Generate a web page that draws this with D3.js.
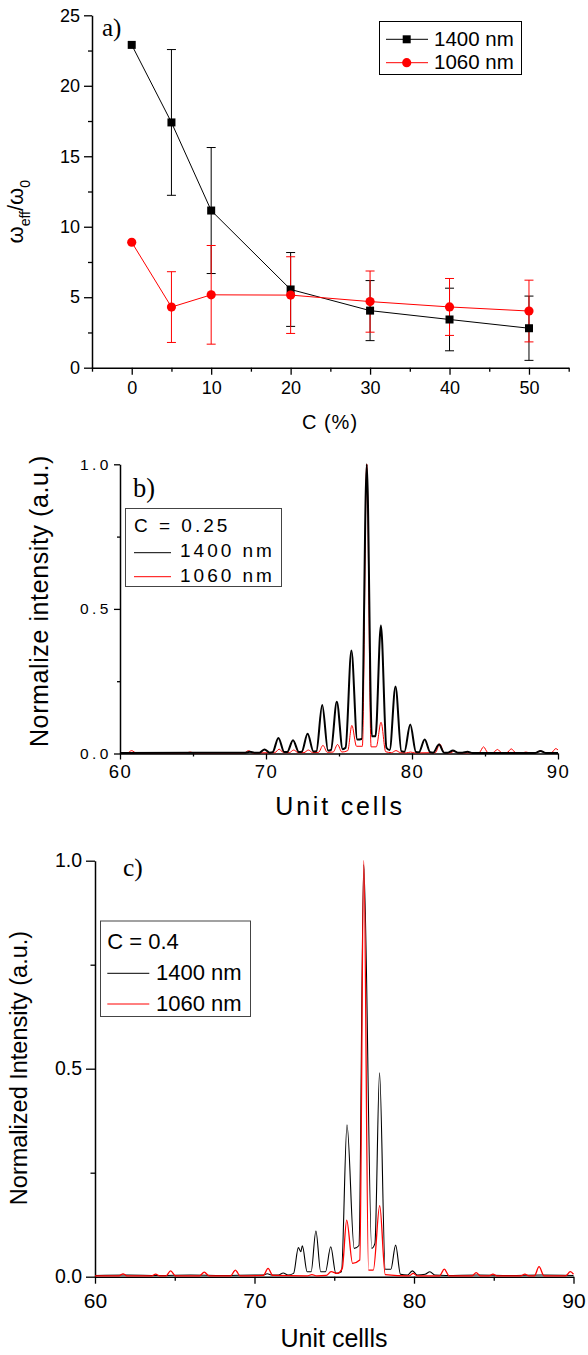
<!DOCTYPE html>
<html>
<head>
<meta charset="utf-8">
<title>Effective frequency and intensity profiles</title>
<script src="https://d3js.org/d3.v7.min.js"></script>
<style>
  html, body { margin: 0; padding: 0; background: #fff; }
  svg { display: block; font-family: "Liberation Sans", Arial, sans-serif; }
  .tag { font-family: "Liberation Serif", "Times New Roman", serif; }
</style>
</head>
<body>
<div id="chart"></div>
<script>
// panel a) effective frequency ratio vs concentration
const concentration = [0, 5, 10, 20, 30, 40, 50];
const omega1400 = [22.9, 17.4, 11.15, 5.55, 4.05, 3.42, 2.8];
const err1400 = [0, 5.17, 4.47, 2.62, 2.13, 2.22, 2.28];
const omega1060 = [8.9, 4.3, 5.17, 5.15, 4.69, 4.31, 4.02];
const err1060 = [0, 2.51, 3.5, 2.72, 2.17, 2.02, 2.19];

// panel b) C = 0.25, intensity profile (unit cell, intensity)
const b1400 = [
  [60, 0.002], [68.6, 0.003], [68.9, 0.006], [69.2, 0.003],
  [69.55, 0.003], [69.9, 0.014], [70.25, 0.003],
  [70.45, 0.004], [70.85, 0.054], [71.25, 0.005],
  [71.45, 0.005], [71.85, 0.046], [72.25, 0.005],
  [72.45, 0.006], [72.85, 0.068], [73.25, 0.007],
  [73.45, 0.008], [73.85, 0.168], [74.25, 0.01],
  [74.45, 0.012], [74.85, 0.179], [75.25, 0.015],
  [75.45, 0.02], [75.85, 0.356], [76.25, 0.048],
  [76.55, 0.05], [76.9, 1.0], [77.25, 0.06],
  [77.5, 0.06], [77.87, 0.443], [78.25, 0.02],
  [78.47, 0.012], [78.87, 0.232], [79.27, 0.008],
  [79.48, 0.006], [79.88, 0.1], [80.27, 0.005],
  [80.47, 0.004], [80.87, 0.048], [81.25, 0.004],
  [81.45, 0.003], [81.85, 0.031], [82.2, 0.003],
  [82.45, 0.003], [82.8, 0.01], [83.15, 0.003],
  [83.45, 0.003], [83.8, 0.006], [84.15, 0.002],
  [88.45, 0.002], [88.8, 0.009], [89.15, 0.002], [90, 0.002]
];
const b1060 = [
  [60, 0.002], [60.5, 0.002], [60.8, 0.01], [61.1, 0.002],
  [64.5, 0.002], [64.8, 0.005], [65.1, 0.002],
  [68.5, 0.002], [68.8, 0.01], [69.1, 0.002],
  [70.6, 0.003], [70.9, 0.015], [71.2, 0.003],
  [71.6, 0.003], [71.9, 0.012], [72.2, 0.003],
  [72.6, 0.003], [72.9, 0.012], [73.2, 0.003],
  [73.6, 0.004], [73.9, 0.028], [74.2, 0.004],
  [74.6, 0.005], [74.9, 0.031], [75.2, 0.005],
  [75.6, 0.01], [75.88, 0.097], [76.2, 0.025],
  [76.6, 0.025], [76.9, 1.0], [77.2, 0.023],
  [77.55, 0.023], [77.88, 0.108], [78.2, 0.006],
  [78.6, 0.003], [78.9, 0.01], [79.2, 0.003],
  [79.6, 0.002], [79.9, 0.005], [80.2, 0.002],
  [81.6, 0.003], [81.9, 0.033], [82.2, 0.003],
  [82.6, 0.002], [82.9, 0.008], [83.2, 0.002],
  [84.6, 0.003], [84.9, 0.023], [85.2, 0.003],
  [85.55, 0.003], [85.85, 0.014], [86.15, 0.003],
  [86.5, 0.003], [86.8, 0.016], [87.1, 0.003],
  [87.5, 0.002], [87.8, 0.005], [88.1, 0.002],
  [88.5, 0.003], [88.8, 0.009], [89.1, 0.003],
  [89.55, 0.003], [89.85, 0.017], [90, 0.012]
];

// panel c) C = 0.4, intensity profile
const c1400 = [
  [60, 0.003], [62, 0.004], [64, 0.003], [66, 0.004], [68, 0.003], [70, 0.004],
  [70.5, 0.004], [70.8, 0.007], [71.1, 0.004],
  [71.5, 0.004], [71.8, 0.009], [72.1, 0.004],
  [72.45, 0.008], [72.75, 0.07], [72.9, 0.06], [73.0, 0.074], [73.3, 0.012],
  [73.55, 0.012], [73.85, 0.11], [74.15, 0.012],
  [74.45, 0.012], [74.78, 0.072], [75.1, 0.008],
  [75.45, 0.012], [75.8, 0.365], [76.25, 0.068],
  [76.55, 0.075], [76.85, 0.99], [77.35, 0.068],
  [77.55, 0.08], [77.84, 0.49], [78.2, 0.018],
  [78.55, 0.018], [78.85, 0.076], [79.15, 0.006],
  [79.6, 0.004], [79.9, 0.014], [80.2, 0.004],
  [80.7, 0.006], [81.0, 0.012], [81.3, 0.004],
  [82, 0.003], [84, 0.004], [86, 0.003], [88, 0.004], [90, 0.003]
];
const c1060 = [
  [60, 0.002], [61.5, 0.002], [61.76, 0.007], [62.0, 0.002],
  [63.55, 0.002], [63.8, 0.006], [64.05, 0.002],
  [64.45, 0.002], [64.74, 0.014], [65.05, 0.002],
  [66.55, 0.002], [66.85, 0.011], [67.15, 0.002],
  [68.5, 0.002], [68.8, 0.016], [69.1, 0.002],
  [70.55, 0.003], [70.85, 0.02], [71.15, 0.003],
  [73.3, 0.002], [73.6, 0.005], [73.9, 0.002],
  [74.5, 0.003], [74.8, 0.012], [75.2, 0.008],
  [75.5, 0.02], [75.78, 0.136], [76.15, 0.032],
  [76.6, 0.04], [76.85, 1.0], [77.15, 0.016],
  [77.45, 0.016], [77.85, 0.171], [78.2, 0.005],
  [79.7, 0.002], [79.95, 0.008], [80.2, 0.002],
  [81.6, 0.002], [81.9, 0.018], [82.2, 0.002],
  [83.65, 0.002], [83.9, 0.01], [84.15, 0.002],
  [84.7, 0.002], [84.95, 0.006], [85.2, 0.002],
  [86.7, 0.002], [86.95, 0.006], [87.2, 0.002],
  [87.55, 0.002], [87.84, 0.024], [88.15, 0.002],
  [89.5, 0.002], [89.8, 0.012], [90, 0.006]
];

const seriesNames = ["1400 nm", "1060 nm"];
const seriesColors = ["#000000", "#ff0000"];

const svg = d3.select("#chart")
  .append("svg")
  .attr("width", 588)
  .attr("height", 1355);

svg.append("rect").attr("width", 588).attr("height", 1355).attr("fill", "#fff");

// draws an axis with major (labelled) and minor ticks
function drawAxis(orient, scale, pos, cfg) {
  const make = orient === "left" ? d3.axisLeft : d3.axisBottom;
  const tr = orient === "left" ? `translate(${pos},0)` : `translate(0,${pos})`;

  const minor = svg.append("g")
    .attr("transform", tr)
    .call(make(scale).tickValues(cfg.minor).tickSize(cfg.minorLen).tickFormat(""));
  minor.select(".domain").remove();
  minor.selectAll("line").attr("stroke", "#000").attr("stroke-width", 1.3);

  const major = svg.append("g")
    .attr("transform", tr)
    .call(make(scale)
      .tickValues(cfg.major)
      .tickSize(cfg.majorLen)
      .tickSizeOuter(0)
      .tickPadding(cfg.pad)
      .tickFormat(cfg.format));
  major.attr("font-size", cfg.fontSize).attr("font-family", null);
  major.select(".domain").attr("stroke", "#000").attr("stroke-width", 1.5);
  major.selectAll("line").attr("stroke", "#000").attr("stroke-width", 1.3);
  major.selectAll("text")
    .attr("fill", "#000")
    .style("letter-spacing", (cfg.spacing || 0) + "px");
  return major;
}

// ---------- panel a ----------
const xA = d3.scaleLinear().domain([-5, 55]).range([92, 568.7]);
const yA = d3.scaleLinear().domain([0, 25]).range([367.7, 15.3]);

drawAxis("left", yA, 92, {
  major: [0, 5, 10, 15, 20, 25], minor: [2.5, 7.5, 12.5, 17.5, 22.5],
  majorLen: 8, minorLen: 4, pad: 4, fontSize: 18, format: d3.format("d")
});
drawAxis("bottom", xA, 367.7, {
  major: [0, 10, 20, 30, 40, 50], minor: [-5, 5, 15, 25, 35, 45, 55],
  majorLen: 7, minorLen: 4, pad: 7, fontSize: 18, format: d3.format("d")
});

const seriesA = [
  { values: omega1400, err: err1400, color: seriesColors[0], marker: "square" },
  { values: omega1060, err: err1060, color: seriesColors[1], marker: "circle" }
];

// error bars
seriesA.forEach((s) => {
  const g = svg.append("g").attr("stroke", s.color).attr("stroke-width", 1);
  concentration.forEach((c, i) => {
    if (!s.err[i]) return;
    const cx = xA(c);
    const top = yA(s.values[i] + s.err[i]);
    const bot = yA(s.values[i] - s.err[i]);
    g.append("line").attr("x1", cx).attr("x2", cx).attr("y1", top).attr("y2", bot);
    g.append("line").attr("x1", cx - 4.5).attr("x2", cx + 4.5).attr("y1", top).attr("y2", top);
    g.append("line").attr("x1", cx - 4.5).attr("x2", cx + 4.5).attr("y1", bot).attr("y2", bot);
  });
});

// lines and markers
seriesA.forEach((s) => {
  const line = d3.line().x((d, i) => xA(concentration[i])).y((d) => yA(d));
  svg.append("path")
    .datum(s.values)
    .attr("d", line)
    .attr("fill", "none")
    .attr("stroke", s.color)
    .attr("stroke-width", 1);
  const sym = d3.symbol()
    .type(s.marker === "square" ? d3.symbolSquare : d3.symbolCircle)
    .size(s.marker === "square" ? 64 : 66);
  svg.append("g")
    .selectAll("path")
    .data(s.values)
    .join("path")
    .attr("transform", (d, i) => `translate(${xA(concentration[i])},${yA(d)})`)
    .attr("d", sym)
    .attr("fill", s.color);
});

svg.append("text").attr("class", "tag")
  .attr("x", 102).attr("y", 35.5).attr("font-size", 25).text("a)");

// y title: omega_eff / omega_0
const tA = svg.append("text")
  .attr("transform", "translate(23,211.7) rotate(-90)")
  .attr("text-anchor", "middle");
tA.append("tspan").attr("font-size", 22).text("ω");
tA.append("tspan").attr("font-size", 14).attr("dy", 7).text("eff");
tA.append("tspan").attr("font-size", 22).attr("dy", -7).text("/");
tA.append("tspan").attr("font-size", 22).text("ω");
tA.append("tspan").attr("font-size", 14).attr("dy", 7).text("0");

svg.append("text")
  .attr("x", 330).attr("y", 429)
  .attr("text-anchor", "middle")
  .attr("font-size", 20)
  .style("letter-spacing", "1px")
  .text("C (%)");

// legend a
svg.append("rect")
  .attr("x", 379.5).attr("y", 21.5).attr("width", 142).attr("height", 53)
  .attr("fill", "#fff").attr("stroke", "#000").attr("stroke-width", 1);
seriesA.forEach((s, i) => {
  const ly = [39.3, 62.7][i];
  svg.append("line")
    .attr("x1", 386).attr("x2", 428).attr("y1", ly).attr("y2", ly)
    .attr("stroke", s.color).attr("stroke-width", 1);
  svg.append("path")
    .attr("transform", `translate(406.7,${ly})`)
    .attr("d", d3.symbol()
      .type(s.marker === "square" ? d3.symbolSquare : d3.symbolCircle)
      .size(s.marker === "square" ? 64 : 66))
    .attr("fill", s.color);
  svg.append("text")
    .attr("x", 434).attr("y", ly + 6.7)
    .attr("font-size", 20.5)
    .text(seriesNames[i]);
});

// ---------- panel b ----------
const xB = d3.scaleLinear().domain([60, 90]).range([120, 558]);
const yB = d3.scaleLinear().domain([0, 1]).range([753.5, 464.3]);

drawAxis("left", yB, 120, {
  major: [0, 0.5, 1], minor: [0.25, 0.75],
  majorLen: 6, minorLen: 3, pad: 2, fontSize: 15.5, spacing: 3.5, format: d3.format(".1f")
});
drawAxis("bottom", xB, 753.5, {
  major: [60, 70, 80, 90], minor: [65, 75, 85],
  majorLen: 6, minorLen: 3, pad: 5, fontSize: 18.5, spacing: 1.5, format: d3.format("d")
});

// red drawn first so the thick black trace sits on top, as in the figure
const lineB = d3.line().x((d) => xB(d[0])).y((d) => yB(d[1])).curve(d3.curveMonotoneX);
svg.append("path").datum(b1060).attr("d", lineB)
  .attr("fill", "none").attr("stroke", seriesColors[1]).attr("stroke-width", 1);
svg.append("path").datum(b1400).attr("d", lineB)
  .attr("fill", "none").attr("stroke", seriesColors[0]).attr("stroke-width", 2);
// thin red line still shows through the middle of the shared main peak
svg.append("path").datum(b1060.filter((d) => d[1] > 0.3)).attr("d", lineB)
  .attr("fill", "none").attr("stroke", seriesColors[1]).attr("stroke-width", 0.6);

svg.append("text").attr("class", "tag")
  .attr("x", 133).attr("y", 497).attr("font-size", 26.5).text("b)");

svg.append("text")
  .attr("transform", "translate(48,601) rotate(-90)")
  .attr("text-anchor", "middle")
  .attr("font-size", 25)
  .style("letter-spacing", "0.6px")
  .text("Normalize intensity (a.u.)");

svg.append("text")
  .attr("x", 340).attr("y", 815)
  .attr("text-anchor", "middle")
  .attr("font-size", 25)
  .style("letter-spacing", "2.8px")
  .text("Unit cells");

// legend b
svg.append("rect")
  .attr("x", 125.5).attr("y", 508.5).attr("width", 156).attr("height", 78)
  .attr("fill", "#fff").attr("stroke", "#444").attr("stroke-width", 1);
svg.append("text")
  .attr("x", 134).attr("y", 532.3).attr("font-size", 19)
  .style("letter-spacing", "3px").text("C = 0.25");
seriesNames.forEach((name, i) => {
  const ly = [552.7, 576.7][i];
  svg.append("line")
    .attr("x1", 134).attr("x2", 171).attr("y1", ly).attr("y2", ly)
    .attr("stroke", seriesColors[i]).attr("stroke-width", 1);
  svg.append("text")
    .attr("x", 180).attr("y", [557.3, 581.7][i]).attr("font-size", 19)
    .style("letter-spacing", "3px").text(name);
});

// ---------- panel c ----------
const xC = d3.scaleLinear().domain([60, 90]).range([95, 573.5]);
const yC = d3.scaleLinear().domain([0, 1]).range([1276.7, 860.7]);

drawAxis("left", yC, 95, {
  major: [0, 0.5, 1], minor: [0.25, 0.75],
  majorLen: 9, minorLen: 4.5, pad: 4, fontSize: 19.5, format: d3.format(".1f")
});
drawAxis("bottom", xC, 1276.7, {
  major: [60, 70, 80, 90], minor: [65, 75, 85],
  majorLen: 7, minorLen: 4, pad: 9, fontSize: 21, format: d3.format("d")
});

const lineC = d3.line().x((d) => xC(d[0])).y((d) => yC(d[1])).curve(d3.curveMonotoneX);
svg.append("path").datum(c1400).attr("d", lineC)
  .attr("fill", "none").attr("stroke", seriesColors[0]).attr("stroke-width", 1.1);
svg.append("path").datum(c1060).attr("d", lineC)
  .attr("fill", "none").attr("stroke", seriesColors[1]).attr("stroke-width", 1.3);

svg.append("text").attr("class", "tag")
  .attr("x", 123).attr("y", 876).attr("font-size", 25.5).text("c)");

svg.append("text")
  .attr("transform", "translate(27,1068) rotate(-90)")
  .attr("text-anchor", "middle")
  .attr("font-size", 23.5)
  .text("Normalized Intensity (a.u.)");

svg.append("text")
  .attr("x", 334).attr("y", 1347)
  .attr("text-anchor", "middle")
  .attr("font-size", 25)
  .text("Unit cellls");

// legend c
svg.append("rect")
  .attr("x", 100.5).attr("y", 921).attr("width", 150).attr("height", 95.5)
  .attr("fill", "#fff").attr("stroke", "#444").attr("stroke-width", 1);
svg.append("text")
  .attr("x", 107.3).attr("y", 949.3).attr("font-size", 22).text("C = 0.4");
seriesNames.forEach((name, i) => {
  const ly = [973.3, 1004][i];
  svg.append("line")
    .attr("x1", 107.3).attr("x2", 149.3).attr("y1", ly).attr("y2", ly)
    .attr("stroke", seriesColors[i]).attr("stroke-width", 1);
  svg.append("text")
    .attr("x", 156).attr("y", [980, 1010.7][i]).attr("font-size", 22).text(name);
});
</script>
</body>
</html>
